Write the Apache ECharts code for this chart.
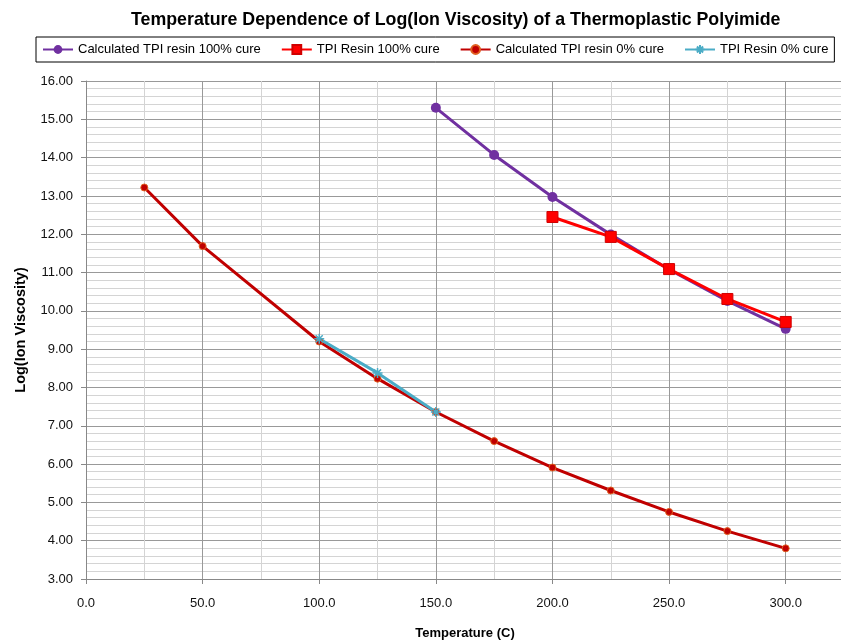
<!DOCTYPE html>
<html>
<head>
<meta charset="utf-8">
<script src="https://cdn.jsdelivr.net/npm/echarts@6/dist/echarts.min.js"></script>
<style>
  html, body { margin: 0; padding: 0; background: #fff; }
  #chart { width: 841px; height: 641px; }
</style>
</head>
<body>
<div id="chart"></div>
<script>
// temperatures (C)
var tempCalc100 = [150, 175, 200, 225, 250, 275, 300];
var calc100 = [15.30, 14.07, 12.97, 11.99, 11.08, 10.26, 9.53];

var tempResin100 = [200, 225, 250, 275, 300];
var resin100 = [12.45, 11.93, 11.09, 10.31, 9.71];

var tempCalc0 = [25, 50, 100, 125, 150, 175, 200, 225, 250, 275, 300];
var calc0 = [13.22, 11.69, 9.20, 8.23, 7.36, 6.60, 5.91, 5.31, 4.75, 4.25, 3.80];

var tempResin0 = [100, 125, 150];
var resin0 = [9.27, 8.38, 7.36];

function pairs(xs, ys) {
    return xs.map(function (x, i) { return [x, ys[i]]; });
}

var chart = echarts.init(document.getElementById('chart'));

var font = '"Liberation Sans", Arial, sans-serif';

var option = {
    animation: false,
    title: {
        text: 'Temperature Dependence of Log(Ion Viscosity) of a Thermoplastic Polyimide',
        left: 126,
        top: 6,
        textStyle: { fontFamily: font, fontSize: 17.8, fontWeight: 'bold', color: '#000' }
    },
    legend: {
        top: 37,
        left: 36,
        padding: [6, 6],
        itemGap: 20,
        itemWidth: 30,
        itemHeight: 11,
        borderColor: '#000',
        borderWidth: 1,
        textStyle: { fontFamily: font, fontSize: 13, color: '#000' },
        data: ['Calculated TPI resin 100% cure', 'TPI Resin 100% cure',
               'Calculated TPI resin 0% cure', 'TPI Resin 0% cure']
    },
    grid: { left: 86, right: -3, top: 81, bottom: 62, outerBoundsMode: 'none' },
    xAxis: {
        type: 'value',
        min: 0,
        max: 325,
        interval: 50,
        name: 'Temperature (C)',
        nameLocation: 'middle',
        nameGap: 48,
        nameTextStyle: { fontFamily: font, fontSize: 13, fontWeight: 'bold', color: '#000' },
        axisLine: { show: true, lineStyle: { color: '#888' } },
        axisTick: { show: true, length: 5, lineStyle: { color: '#888' } },
        axisLabel: {
            margin: 18,
            showMaxLabel: false,
            fontFamily: font, fontSize: 13, color: '#111',
            formatter: function (v) { return v.toFixed(1); }
        },
        splitLine: { show: true, lineStyle: { color: '#999', width: 1 } },
        minorTick: { show: false, splitNumber: 2 },
        minorSplitLine: { show: true, lineStyle: { color: '#d4d4d4', width: 1 } }
    },
    yAxis: {
        type: 'value',
        min: 3,
        max: 16,
        interval: 1,
        name: 'Log(Ion Viscosity)',
        nameLocation: 'middle',
        nameGap: 58,
        nameTextStyle: { fontFamily: font, fontSize: 14.5, fontWeight: 'bold', color: '#000' },
        axisLine: { show: true, lineStyle: { color: '#888' } },
        axisTick: { show: true, length: 5, lineStyle: { color: '#888' } },
        axisLabel: {
            margin: 13,
            fontFamily: font, fontSize: 13, color: '#111',
            formatter: function (v) { return v.toFixed(2); }
        },
        splitLine: { show: true, lineStyle: { color: '#999', width: 1 } },
        minorTick: { show: false, splitNumber: 5 },
        minorSplitLine: { show: true, lineStyle: { color: '#d4d4d4', width: 1 } }
    },
    series: [
        {
            name: 'Calculated TPI resin 100% cure',
            type: 'line',
            data: pairs(tempCalc100, calc100),
            symbol: 'circle',
            symbolSize: 10,
            itemStyle: { color: '#7030a0' },
            lineStyle: { color: '#7030a0', width: 3 }
        },
        {
            name: 'TPI Resin 100% cure',
            type: 'line',
            data: pairs(tempResin100, resin100),
            symbol: 'rect',
            symbolSize: 11,
            itemStyle: { color: '#ff0000', borderColor: '#d00000', borderWidth: 1 },
            lineStyle: { color: '#ff0000', width: 3 }
        },
        {
            name: 'Calculated TPI resin 0% cure',
            type: 'line',
            data: pairs(tempCalc0, calc0),
            symbol: 'circle',
            symbolSize: 7,
            itemStyle: { color: '#c00000', borderColor: '#e06020', borderWidth: 1 },
            lineStyle: { color: '#c00000', width: 3 }
        },
        {
            name: 'TPI Resin 0% cure',
            type: 'line',
            data: pairs(tempResin0, resin0),
            symbol: 'path://M0,5L10,5M5,0L5,10M1.5,1.5L8.5,8.5M8.5,1.5L1.5,8.5',
            symbolSize: 10,
            itemStyle: { color: '#4bacc6', borderColor: '#4bacc6', borderWidth: 1.5 },
            lineStyle: { color: '#4bacc6', width: 3 }
        }
    ]
};

chart.setOption(option);
</script>
</body>
</html>
